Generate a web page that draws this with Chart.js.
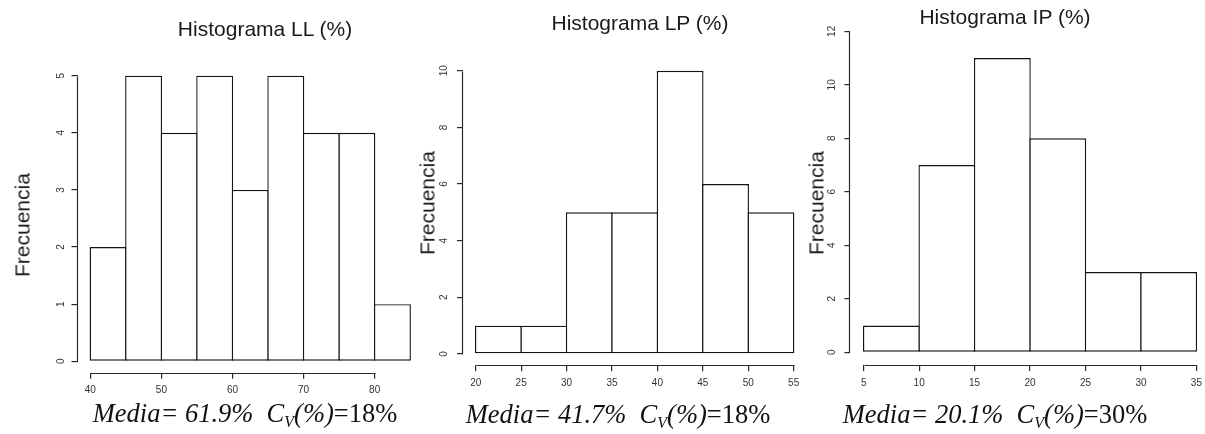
<!DOCTYPE html>
<html><head><meta charset="utf-8">
<script src="https://cdn.jsdelivr.net/npm/chart.js@4/dist/chart.umd.min.js"></script>
<style>
html,body{margin:0;padding:0;background:#fff;}
body{width:1205px;height:434px;overflow:hidden;position:relative;}
canvas{position:absolute;top:0;}
.t{position:absolute;font-family:'Liberation Sans',Arial,sans-serif;font-size:21px;color:#1a1a1a;white-space:nowrap;line-height:1;transform:translate(-50%,-50%);}
.yl{position:absolute;font-family:'Liberation Sans',Arial,sans-serif;font-size:21px;color:#1a1a1a;white-space:nowrap;line-height:1;transform:translate(-50%,-50%) rotate(-90deg);}
.xl{position:absolute;font-family:'Liberation Serif','Times New Roman',serif;font-size:26.5px;color:#111;white-space:nowrap;line-height:1;transform:translate(-50%,-50%);}
.xl sub{font-size:16px;vertical-align:baseline;position:relative;top:5px;}
</style></head>
<body>
<canvas id="c1" width="430" height="434" style="left:0px"></canvas>
<canvas id="c2" width="385" height="434" style="left:430px"></canvas>
<canvas id="c3" width="400" height="434" style="left:815px"></canvas>

<div class="t" style="left:265px;top:27.5px">Histograma LL (%)</div>
<div class="t" style="left:640px;top:22px">Histograma LP (%)</div>
<div class="t" style="left:1005px;top:15.5px">Histograma IP (%)</div>

<div class="yl" style="left:22px;top:225px">Frecuencia</div>
<div class="yl" style="left:427px;top:203px">Frecuencia</div>
<div class="yl" style="left:816px;top:203px">Frecuencia</div>

<div class="xl" style="left:245px;top:413px"><i>Media= 61.9%&nbsp; C<sub>V</sub>(%)</i>=18%</div>
<div class="xl" style="left:618px;top:414px"><i>Media= 41.7%&nbsp; C<sub>V</sub>(%)</i>=18%</div>
<div class="xl" style="left:995px;top:414px"><i>Media= 20.1%&nbsp; C<sub>V</sub>(%)</i>=30%</div>

<script>
// ---- data ----
const llEdges  = [40, 45, 50, 55, 60, 65, 70, 75, 80, 85];
const llCounts = [2, 5, 4, 5, 3, 5, 4, 4, 1];
const llXTicks = [40, 50, 60, 70, 80];
const llYTicks = [0, 1, 2, 3, 4, 5];

const lpEdges  = [20, 25, 30, 35, 40, 45, 50, 55];
const lpCounts = [1, 1, 5, 5, 10, 6, 5];
const lpXTicks = [20, 25, 30, 35, 40, 45, 50, 55];
const lpYTicks = [0, 2, 4, 6, 8, 10];

const ipEdges  = [5, 10, 15, 20, 25, 30, 35];
const ipCounts = [1, 7, 11, 8, 3, 3];
const ipXTicks = [5, 10, 15, 20, 25, 30, 35];
const ipYTicks = [0, 2, 4, 6, 8, 10, 12];

const LINE = '#151515';
const TICKCOL = '#2a2a2a';
const LABELCOL = '#333';
const BW = 1.4;
const YW = 30, XH = 30, H = 434;

const axisLines = {
  id: 'axisLines',
  afterDraw(chart) {
    const {ctx, scales: {x, y}} = chart;
    ctx.save();
    ctx.strokeStyle = TICKCOL; ctx.lineWidth = 1.2;
    const xt = x.ticks, yt = y.ticks;
    const yy = Math.round(x.top) + 0.5;
    ctx.beginPath();
    ctx.moveTo(Math.round(x.getPixelForValue(xt[0].value)) + 0.5, yy);
    ctx.lineTo(Math.round(x.getPixelForValue(xt[xt.length - 1].value)) + 0.5, yy);
    ctx.stroke();
    const xx = Math.round(y.right) - 0.5;
    ctx.beginPath();
    ctx.moveTo(xx, Math.round(y.getPixelForValue(yt[0].value)) + 0.5);
    ctx.lineTo(xx, Math.round(y.getPixelForValue(yt[yt.length - 1].value)) + 0.5);
    ctx.stroke();
    ctx.restore();
  }
};

function panel(id, W, area, edges, counts, xTicks, yTicks) {
  const binW = edges[1] - edges[0];
  const xr = edges[edges.length - 1] - edges[0];
  const xmin = edges[0] - 0.04 * xr, xmax = edges[edges.length - 1] + 0.04 * xr;
  const ymaxData = Math.max(...counts);
  const ytop = yTicks[yTicks.length - 1] > ymaxData ? yTicks[yTicks.length - 1] : ymaxData;
  const ymin = -0.04 * ytop, ymax = ytop * 1.04;
  const binPx = (area.r - area.l) / (xmax - xmin) * binW;
  const data = counts.map((c, i) => ({x: (edges[i] + edges[i + 1]) / 2, y: c}));
  new Chart(document.getElementById(id), {
    type: 'bar',
    data: {datasets: [{
      data,
      backgroundColor: '#ffffff',
      borderColor: LINE,
      borderWidth: BW,
      borderSkipped: false,
      inflateAmount: 0,
      categoryPercentage: 1,
      barPercentage: 1 + BW / binPx
    }]},
    options: {
      responsive: false,
      animation: false,
      events: [],
      layout: {padding: {left: area.l - YW, right: W - area.r, top: area.t, bottom: H - area.b - XH}},
      plugins: {legend: {display: false}, tooltip: {enabled: false}, title: {display: false}},
      scales: {
        x: {
          type: 'linear', min: xmin, max: xmax, offset: false,
          afterBuildTicks: s => { s.ticks = xTicks.map(v => ({value: v})); },
          afterFit: s => { s.height = XH; },
          grid: {display: true, offset: false, drawOnChartArea: false, drawTicks: true, tickLength: 6, color: TICKCOL, lineWidth: 1.2},
          border: {display: false},
          ticks: {font: {family: 'Liberation Sans', size: 10}, color: LABELCOL, padding: 6, maxRotation: 0, minRotation: 0, autoSkip: false, callback: v => String(v)}
        },
        y: {
          type: 'linear', min: ymin, max: ymax, beginAtZero: false,
          afterBuildTicks: s => { s.ticks = yTicks.map(v => ({value: v})); },
          afterFit: s => { s.width = YW; },
          grid: {display: true, offset: false, drawOnChartArea: false, drawTicks: true, tickLength: 6, color: TICKCOL, lineWidth: 1.2},
          border: {display: false},
          ticks: {font: {family: 'Liberation Sans', size: 10}, color: LABELCOL, padding: 7, minRotation: 90, maxRotation: 90, crossAlign: 'center', autoSkip: false, callback: v => String(v)}
        }
      }
    },
    plugins: [axisLines]
  });
}

panel('c1', 430, {l: 77.5, r: 423.0, t: 64.3, b: 372.7}, llEdges, llCounts, llXTicks, llYTicks);
panel('c2', 385, {l: 33.0, r: 376.4, t: 59.4, b: 365.3}, lpEdges, lpCounts, lpXTicks, lpYTicks);
panel('c3', 400, {l: 35.4, r: 394.7, t: 18.5, b: 365.1}, ipEdges, ipCounts, ipXTicks, ipYTicks);
</script>
</body></html>
